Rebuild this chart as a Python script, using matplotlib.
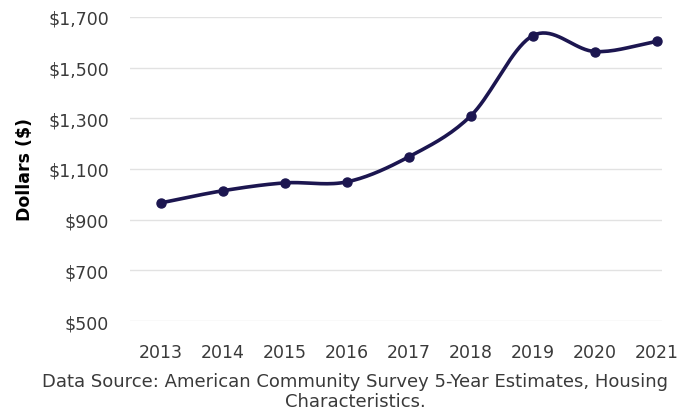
import numpy as np
import matplotlib
matplotlib.use('Agg')
import matplotlib.pyplot as plt
from matplotlib.ticker import FuncFormatter

plt.rcParams['font.family'] = ['DejaVu Sans']

years = [2013, 2014, 2015, 2016, 2017, 2018, 2019, 2020, 2021]
rent = [966, 1014, 1045, 1049, 1148, 1310, 1626, 1563, 1603]
yticks = [500, 700, 900, 1100, 1300, 1500, 1700]
caption = "Data Source: American Community Survey 5-Year Estimates, Housing\nCharacteristics."


def smooth(x, y, n=20):
    # Catmull-Rom curve through the points, like a smoothed line in Excel
    x = np.asarray(x, float)
    y = np.asarray(y, float)
    px = np.concatenate([[2 * x[0] - x[1]], x, [2 * x[-1] - x[-2]]])
    py = np.concatenate([[2 * y[0] - y[1]], y, [2 * y[-1] - y[-2]]])
    xs, ys = [], []
    t = np.linspace(0, 1, n)
    for i in range(1, len(px) - 2):
        for p, out in ((px, xs), (py, ys)):
            p0, p1, p2, p3 = p[i - 1], p[i], p[i + 1], p[i + 2]
            out.extend(0.5 * (2 * p1 + (-p0 + p2) * t
                              + (2 * p0 - 5 * p1 + 4 * p2 - p3) * t ** 2
                              + (-p0 + 3 * p1 - 3 * p2 + p3) * t ** 3))
    return np.array(xs), np.array(ys)


fig = plt.figure(figsize=(6.79, 4.14), dpi=100)
ax = fig.add_axes([0.191, 0.222, 0.784, 0.735])

line_color = '#1c1650'
sx, sy = smooth(years, rent)
ax.plot(sx, sy, color=line_color, linewidth=2.6, solid_capstyle='round', zorder=3)
ax.plot(years, rent, 'o', color=line_color, markersize=6.5, zorder=4)

ax.set_xlim(2012.5, 2021.08)
ax.set_ylim(500, 1700)
ax.set_yticks(yticks)
ax.set_xticks(years)
ax.yaxis.set_major_formatter(FuncFormatter(lambda v, p: '${:,.0f}'.format(v)))
ax.grid(True, axis='y', color='#e2e2e2', linewidth=1)
ax.set_axisbelow(True)
for s in ax.spines.values():
    s.set_visible(False)
ax.tick_params(length=0, labelsize=12.5, colors='#3a3a3a')
ax.tick_params(axis='y', pad=15)
ax.tick_params(axis='x', pad=16)
ax.set_ylabel('Dollars ($)', fontsize=12.5, fontweight='bold', color='black')
ax.yaxis.set_label_coords(-0.18, 0.5)

fig.text(0.523, 0.053, caption, ha='center', va='center', fontsize=13,
         color='#3a3a3a', linespacing=1.1)

fig.savefig('out.png', dpi=100)
